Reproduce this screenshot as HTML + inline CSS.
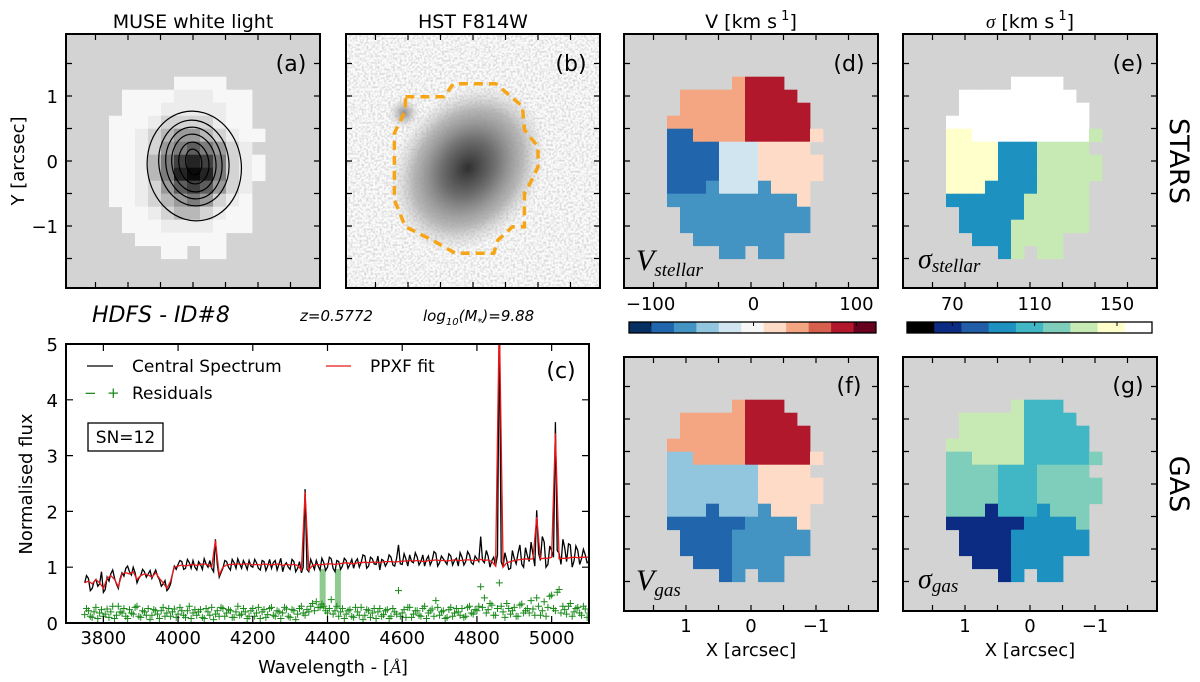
<!DOCTYPE html>
<html><head><meta charset="utf-8">
<style>
html,body{margin:0;padding:0;background:#fff;}
svg{display:block;font-family:"DejaVu Sans","Liberation Sans",sans-serif;}
</style></head>
<body>
<svg id="fig" width="1200" height="682" viewBox="0 0 1200 682" xmlns="http://www.w3.org/2000/svg">
<defs>
  <clipPath id="clipC"><rect x="66" y="344" width="523" height="279"/></clipPath>
  <clipPath id="clipB"><rect x="346" y="34" width="254" height="254"/></clipPath>
  <filter id="noise" x="0" y="0" width="100%" height="100%">
    <feTurbulence type="fractalNoise" baseFrequency="0.45" numOctaves="1" seed="7"/>
    <feColorMatrix type="matrix" values="0 0 0 0 0.55  0 0 0 0 0.55  0 0 0 0 0.55  0 0 0 -3.2 1.9"/>
  </filter>
  <radialGradient id="gal" cx="0.5" cy="0.5" r="0.5">
    <stop offset="0" stop-color="#303030"/>
    <stop offset="0.35" stop-color="#707070"/>
    <stop offset="0.7" stop-color="#a8a8a8" stop-opacity="0.8"/>
    <stop offset="1" stop-color="#d0d0d0" stop-opacity="0"/>
  </radialGradient>
  <radialGradient id="blob" cx="0.5" cy="0.5" r="0.5">
    <stop offset="0" stop-color="#8a8a8a"/>
    <stop offset="1" stop-color="#c8c8c8" stop-opacity="0"/>
  </radialGradient>
</defs>

<text x="193" y="28" font-size="19" text-anchor="middle">MUSE white light</text>
<text x="473" y="28" font-size="19" text-anchor="middle">HST F814W</text>
<text x="751" y="28" font-size="19" text-anchor="middle">V [km s<tspan font-size="13" dy="-8"> 1</tspan><tspan dy="8">]</tspan></text>
<text x="1030" y="28" font-size="19" text-anchor="middle"><tspan font-family="Liberation Serif" font-style="italic">σ</tspan> [km s<tspan font-size="13" dy="-8"> 1</tspan><tspan dy="8">]</tspan></text>

<g id="panelA"><rect x="66" y="34" width="254" height="254" fill="#d3d3d3"/></g>
<g id="panelB">
  <rect x="346" y="34" width="254" height="254" fill="#fbfbfb"/>
  <g clip-path="url(#clipB)">
    <rect x="346" y="34" width="254" height="254" filter="url(#noise)" opacity="0.6"/>
    <ellipse cx="468" cy="168" rx="72" ry="90" fill="url(#gal)" transform="rotate(35 468 168)"/>
    <ellipse cx="404" cy="113" rx="16" ry="16" fill="url(#blob)"/>
  </g>
  <polygon id="aperture" fill="none" stroke="#f5a516" stroke-width="3.5" stroke-dasharray="9,6"/>
</g>
<g id="panelD"><rect x="624" y="34" width="254" height="254" fill="#d3d3d3"/></g>
<g id="panelE"><rect x="903" y="34" width="254" height="254" fill="#d3d3d3"/></g>
<g id="panelF"><rect x="624" y="357" width="254" height="254" fill="#d3d3d3"/></g>
<g id="panelG"><rect x="903" y="357" width="254" height="254" fill="#d3d3d3"/></g>

<g id="contours" fill="none" stroke="#000" stroke-width="1.2" transform="rotate(-8 194 164)">
  <ellipse cx="194" cy="166" rx="47" ry="55"/>
  <ellipse cx="194" cy="163" rx="35" ry="43"/>
  <ellipse cx="194" cy="163" rx="28" ry="36"/>
  <ellipse cx="194" cy="163" rx="22" ry="29"/>
  <ellipse cx="194" cy="163" rx="15" ry="21"/>
  <ellipse cx="194" cy="162" rx="8" ry="13"/>
</g>

<g id="letters" font-size="22">
<text x="291" y="71" text-anchor="middle">(a)</text>
<text x="571" y="71" text-anchor="middle">(b)</text>
<text x="849" y="71" text-anchor="middle">(d)</text>
<text x="1128" y="71" text-anchor="middle">(e)</text>
<text x="849" y="393" text-anchor="middle">(f)</text>
<text x="1128" y="393" text-anchor="middle">(g)</text>
<text x="561" y="378" text-anchor="middle">(c)</text>
</g>
<g id="maplabels" font-family="Liberation Serif" font-style="italic">
<text x="636" y="270" font-size="30">V<tspan font-size="19" dy="6">stellar</tspan></text>
<text x="918" y="268" font-size="28">σ<tspan font-size="19" dy="4">stellar</tspan></text>
<text x="636" y="590" font-size="30">V<tspan font-size="19" dy="6">gas</tspan></text>
<text x="918" y="588" font-size="28">σ<tspan font-size="19" dy="4">gas</tspan></text>
</g>

<text transform="translate(24 161) rotate(-90)" font-size="18" text-anchor="middle">Y [arcsec]</text>
<text transform="translate(1170 161) rotate(90)" font-size="27" text-anchor="middle">STARS</text>
<text transform="translate(1170 484) rotate(90)" font-size="27" text-anchor="middle">GAS</text>

<text x="92" y="322" font-size="22" font-style="italic">HDFS - ID#8</text>
<text x="300" y="321" font-size="15" font-style="italic">z=0.5772</text>
<text x="423" y="321" font-size="15" font-style="italic">log<tspan font-size="10" dy="4">10</tspan><tspan dy="-4">(M</tspan><tspan font-size="10" dy="4">*</tspan><tspan dy="-4">)=9.88</tspan></text>

<g id="panelC">
  <rect x="66" y="344" width="523" height="279" fill="#fff"/>
</g>
<text transform="translate(32 484) rotate(-90)" font-size="18" text-anchor="middle">Normalised flux</text>
<text x="333" y="673" font-size="18" text-anchor="middle">Wavelength - [<tspan font-family="Liberation Serif" font-style="italic">Å</tspan>]</text>
<g id="legend" font-size="17">
  <line x1="87" y1="366" x2="113" y2="366" stroke="#000" stroke-width="1.3"/>
  <text x="132" y="372">Central Spectrum</text>
  <line x1="326" y1="366" x2="351" y2="366" stroke="#e8181a" stroke-width="1.3"/>
  <text x="370" y="372">PPXF fit</text>
  <text x="84" y="398" fill="#1a8a1a" font-size="15">−</text>
  <text x="107" y="398" fill="#1a8a1a" font-size="15">+</text>
  <text x="132" y="399">Residuals</text>
</g>
<rect x="88" y="423" width="75" height="28" fill="#fff" stroke="#000" stroke-width="1.3"/>
<text x="125.5" y="443" font-size="17" text-anchor="middle">SN=12</text>
</svg>

<script>
// ---------- spectrum data ----------
const wlStart = 3750, wlStep = 10;
const flux = [0.72,0.80,0.62,0.78,0.70,0.55,0.82,0.88,0.80,0.62,
0.90,0.98,0.92,1.00,0.72,0.85,0.92,0.88,0.80,0.95,
0.78,0.70,0.58,0.70,1.02,1.05,1.10,0.98,1.08,1.12,
0.95,1.05,1.15,1.00,0.98,1.50,0.82,0.98,1.10,0.95,
1.08,1.15,0.98,1.05,1.12,1.00,1.08,0.95,1.10,1.02,
0.98,1.12,1.05,0.92,1.08,0.96,1.10,0.98,0.90,2.40,
0.92,1.05,1.12,0.95,1.08,1.00,1.15,0.92,1.10,1.02,
1.12,1.05,0.98,1.15,1.08,1.20,1.02,1.15,1.05,0.95,
1.12,1.08,1.18,1.02,1.40,1.05,1.15,1.22,1.08,1.18,
1.10,1.02,1.20,1.12,1.25,1.08,1.15,1.05,1.20,1.12,
1.02,1.18,1.10,1.22,1.05,1.15,1.55,1.08,1.20,1.12,
1.02,5.50,1.00,1.12,0.98,1.15,1.25,1.05,1.35,1.10,
1.22,2.02,1.12,1.45,1.05,1.30,3.60,1.25,1.50,1.10,
1.40,1.12,1.30,1.15,1.22,1.10];
// intermediate samples (offset +5 A) giving the noisy look
const fluxMid = [0.85,0.58,0.74,0.66,0.92,0.60,0.75,0.95,0.70,0.80,
0.84,1.02,0.86,0.90,0.80,0.96,0.82,0.94,0.88,0.84,
0.66,0.76,0.62,0.88,0.96,1.12,0.96,1.14,0.98,1.00,
1.10,0.96,1.06,1.12,0.92,1.05,0.90,1.12,1.00,1.14,
0.98,1.06,1.12,0.96,1.02,1.14,0.98,1.12,0.94,1.14,
1.08,0.95,1.16,1.04,1.00,1.14,0.92,1.10,1.00,0.96,
1.14,0.96,1.02,1.16,0.94,1.18,0.98,1.12,0.96,1.16,
0.98,1.14,1.10,1.00,1.22,0.98,1.18,1.06,1.20,1.14,
1.02,1.22,1.04,1.16,1.06,1.24,1.02,1.10,1.26,1.04,
1.22,1.14,1.04,1.28,1.02,1.20,1.10,1.24,1.04,1.16,
1.26,1.04,1.28,1.08,1.20,1.10,1.12,1.30,1.00,1.18,
1.22,1.10,1.26,0.96,1.30,1.06,1.40,1.00,1.20,1.45,
1.02,1.25,1.55,1.00,1.38,1.18,1.30,1.05,1.35,1.42,
1.00,1.38,1.05,1.32,1.08,1.25];
const fit = [0.72,0.75,0.70,0.78,0.72,0.62,0.80,0.85,0.78,0.65,
0.88,0.90,0.88,0.92,0.78,0.85,0.88,0.86,0.82,0.90,
0.80,0.72,0.62,0.75,1.00,1.02,1.04,1.02,1.04,1.05,
1.03,1.05,1.06,1.04,1.00,1.48,0.86,1.00,1.04,1.05,
1.05,1.06,1.05,1.06,1.06,1.04,1.05,1.04,1.06,1.05,
1.04,1.05,1.06,1.03,1.05,1.04,1.05,1.03,0.95,2.35,
0.95,1.03,1.05,1.04,1.05,1.06,1.06,1.05,1.06,1.07,
1.08,1.07,1.06,1.08,1.08,1.09,1.08,1.09,1.09,1.08,
1.10,1.10,1.10,1.09,1.10,1.11,1.11,1.12,1.11,1.12,
1.11,1.10,1.12,1.12,1.13,1.12,1.12,1.11,1.12,1.13,
1.12,1.12,1.13,1.13,1.12,1.12,1.14,1.12,1.13,1.10,
1.02,5.50,1.00,1.08,1.10,1.12,1.13,1.14,1.15,1.14,
1.15,1.90,1.15,1.16,1.16,1.18,3.40,1.15,1.16,1.16,
1.17,1.18,1.17,1.18,1.18,1.18];
const resid = [0.15,0.22,0.10,0.28,0.18,0.12,0.25,0.20,0.08,0.30,
0.18,0.12,0.24,0.16,0.30,0.10,0.20,0.26,0.14,0.22,
0.08,0.28,0.18,0.12,0.25,0.16,0.22,0.10,0.30,0.18,
0.14,0.24,0.08,0.20,0.28,0.16,0.12,0.26,0.18,0.22,
0.10,0.30,0.16,0.20,0.12,0.26,0.18,0.08,0.24,0.15,
0.28,0.12,0.20,0.18,0.25,0.10,0.22,0.16,0.30,0.14,
0.20,0.35,0.38,0.28,0.30,0.18,0.42,0.22,0.12,0.26,
0.16,0.24,0.10,0.20,0.28,0.14,0.22,0.18,0.08,0.26,
0.15,0.24,0.12,0.20,0.58,0.18,0.10,0.28,0.16,0.22,
0.12,0.30,0.18,0.25,0.40,0.14,0.22,0.10,0.28,0.18,
0.20,0.26,0.12,0.30,0.16,0.22,0.65,0.45,0.24,0.32,
0.14,0.72,0.20,0.35,0.16,0.28,0.12,0.34,0.22,0.18,
0.25,0.45,0.14,0.38,0.28,0.50,0.22,0.60,0.30,0.16,
0.35,0.20,0.28,0.14,0.25,0.18];
const residMid = [0.26,0.12,0.20,0.08,0.24,0.16,0.10,0.30,0.14,0.20,
0.26,0.08,0.18,0.28,0.12,0.22,0.14,0.06,0.24,0.16,
0.22,0.12,0.26,0.20,0.10,0.28,0.14,0.22,0.08,0.24,
0.20,0.10,0.26,0.14,0.06,0.22,0.28,0.12,0.24,0.10,
0.20,0.14,0.26,0.08,0.22,0.12,0.28,0.20,0.10,0.26,
0.14,0.22,0.08,0.28,0.12,0.24,0.06,0.26,0.18,0.24,
0.30,0.22,0.28,0.34,0.22,0.26,0.16,0.30,0.20,0.08,
0.22,0.12,0.28,0.14,0.06,0.24,0.10,0.26,0.20,0.12,
0.22,0.08,0.26,0.16,0.12,0.24,0.28,0.10,0.22,0.14,
0.26,0.08,0.22,0.12,0.28,0.20,0.08,0.24,0.12,0.26,
0.14,0.10,0.28,0.18,0.24,0.30,0.28,0.18,0.35,0.14,
0.26,0.30,0.10,0.26,0.22,0.12,0.32,0.18,0.26,0.40,
0.14,0.30,0.22,0.12,0.48,0.26,0.55,0.18,0.24,0.30,
0.12,0.26,0.18,0.30,0.10,0.22];
const maskedWl = [4387, 4428];
const maskedLow = [0.25, 0.25];
const maskedHigh = [0.97, 0.97];
const xTicksC = [3800,4000,4200,4400,4600,4800,5000];
const yTicksC = [0,1,2,3,4,5];

// ---------- map data (rows top->bottom, 12 columns of 0.2" spaxels) ----------
const museLevels = [
".....0000...",
".0000111000.",
".0001111100.",
"00012222100.",
"001234432100",
"00124565421.",
"001357875210",
"001358985210",
"00124676421.",
"00123454210.",
".0012332100.",
".0001111000.",
"..0000000...",
"....00.00..."];
const vStellar = [
".....ORRR...",
".OOOOORRRR..",
".OOOOORRRRR.",
"OOOOOORRRRR.",
"DDOOOORRRRRP",
"DDDDLLLPPPP.",
"DDDDLLLPPPPP",
"DDDDLLLPPPPP",
"DDDMLLLMPPP.",
"MMMMMMMMMMP.",
".MMMMMMMMMM.",
".MMMMMMMMMM.",
"..MMMMMMM...",
"....MM.MM..."];
const sStellar = [
".....WWWW...",
".WWWWWWWWW..",
".WWWWWWWWWW.",
"WWWWWWWWWWW.",
"YYWWWWWWWWWG",
"YYYYBBBGGGG.",
"YYYYBBBGGGGG",
"YYYYBBBGGGGG",
"YYYBBBBGGGG.",
"BBBBBBGGGGG.",
".BBBBBGGGGG.",
".BBBBGGGGGG.",
"..BBBGGGG...",
"....BG.GG..."];
const vGas = [
".....ORRR...",
".OOOOORRRR..",
".OOOOORRRRR.",
"OOOOOORRRRR.",
"KKOOOORRRRRP",
"KKKKKKKPPPP.",
"KKKKKKKPPPPP",
"KKKKKKKPPPPP",
"KKKDKKKMPPP.",
"DDDDDDMMMMP.",
".DDDDMMMMMM.",
".DDDDMMMMMM.",
"..DDDMMMM...",
"....DM.MM..."];
const sGas = [
".....GTTT...",
".GGGGGTTTT..",
".GGGGGTTTTT.",
"GGGGGGTTTTT.",
"AAGGGGTTTTTA",
"AAAATTTAAAA.",
"AAAATTTAAAAA",
"AAAATTTAAAAA",
"AAANTTTBAAA.",
"NNNNNNBBBBA.",
".NNNNBBBBBB.",
".NNNNBBBBBB.",
"..NNNBBBB...",
"....NB.BB..."];
const velPalette = {O:"#f4a582",R:"#b2182b",P:"#fddbc7",D:"#2166ac",L:"#d1e5f0",K:"#92c5de",M:"#4393c3"};
const sigPalette = {W:"#ffffff",Y:"#ffffcc",G:"#c7e9b4",B:"#1d91c0",T:"#41b6c4",A:"#7fcdbb",N:"#0c2c84"};
const museGrey = ["#f7f7f7","#ececec","#d4d4d4","#b8b8b8","#9a9a9a","#7c7c7c","#5e5e5e","#404040","#242424","#0a0a0a"];
const velBarColors = ["#053061","#2166ac","#4393c3","#92c5de","#d1e5f0","#f7f7f7","#fddbc7","#f4a582","#d6604d","#b2182b","#67001f"];
const velBarTicks = [-100,0,100];
const sigBarColors = ["#000000","#0c2c84","#225ea8","#1d91c0","#41b6c4","#7fcdbb","#c7e9b4","#ffffcc","#ffffff"];
const sigBarTicks = [70,110,150];
const apertureArcsec = [[1.04,0.99],[0.45,0.99],[0.30,1.19],[-0.35,1.19],[-0.76,0.84],[-0.79,0.48],[-1.0,0.22],[-1.0,-0.09],[-0.88,-0.34],[-0.79,-0.50],[-0.79,-1.01],[-0.61,-1.01],[-0.38,-1.22],[-0.32,-1.42],[0.27,-1.42],[0.62,-1.22],[1.04,-1.01],[1.21,-0.60],[1.21,0.43],[1.04,0.78]];

const NS = "http://www.w3.org/2000/svg";
const fig = document.getElementById('fig');
function mk(tag, attrs, parent){ const e=document.createElementNS(NS,tag); for(const k in attrs) e.setAttribute(k,attrs[k]); (parent||fig).appendChild(e); return e; }

// ---------- spectrum axes ----------
const cx0=66, cx1=589, cy0=344, cy1=623, wMin=3700, wMax=5100, fMax=5;
function xw(w){ return cx0+(w-wMin)*(cx1-cx0)/(wMax-wMin); }
function yf(f){ return cy1-f*(cy1-cy0)/fMax; }
const pc = document.getElementById('panelC');
const clipG = mk('g',{'clip-path':'url(#clipC)'},pc);
maskedWl.forEach((w,i)=>{
  const r = mk('rect',{x:xw(w)-3,y:yf(maskedHigh[i]),width:6,height:yf(maskedLow[i])-yf(maskedHigh[i]),fill:'#5fb35f','fill-opacity':0.7},clipG);
  
  
});
function plus(x,y){
  const p = mk('path',{d:'M'+(x-3.5)+','+y+'H'+(x+3.5)+'M'+x+','+(y-3.5)+'V'+(y+3.5),stroke:'#1a8a1a','stroke-width':1},clipG);
  
  
}
resid.forEach((v,i)=>plus(xw(wlStart+i*wlStep), yf(v)));
residMid.forEach((v,i)=>plus(xw(wlStart+5+i*wlStep), yf(v)));
let dBlack='', dRed='';
flux.forEach((v,i)=>{
  const w=wlStart+i*wlStep;
  dBlack += (i?'L':'M')+xw(w).toFixed(1)+','+yf(v).toFixed(1);
  if(i<fluxMid.length) dBlack += 'L'+xw(w+5).toFixed(1)+','+yf(fluxMid[i]).toFixed(1);
});
fit.forEach((v,i)=>{ const w=wlStart+i*wlStep; dRed += (i?'L':'M')+xw(w).toFixed(1)+','+yf(v).toFixed(1); });
const lb = mk('path',{d:dBlack,fill:'none',stroke:'#000','stroke-width':1.3},clipG);


const lr = mk('path',{d:dRed,fill:'none',stroke:'#e8181a','stroke-width':1.3},clipG);


mk('rect',{x:cx0,y:cy0,width:cx1-cx0,height:cy1-cy0,fill:'none',stroke:'#000','stroke-width':2},pc);
xTicksC.forEach(w=>{
  const x=xw(w);
  mk('path',{d:'M'+x+','+cy1+'v-7M'+x+','+cy0+'v7',stroke:'#000','stroke-width':1.2},pc);
  const t = mk('text',{x:x,y:644,'font-size':18,'text-anchor':'middle'},pc);
  t.textContent = w;
  
  
});
yTicksC.forEach(f=>{
  const y=yf(f);
  mk('path',{d:'M'+cx0+','+y+'h7M'+cx1+','+y+'h-7',stroke:'#000','stroke-width':1.2},pc);
  const t = mk('text',{x:58,y:y+7,'font-size':18,'text-anchor':'end'},pc);
  t.textContent = f;
  
  
});

// ---------- maps ----------
const CELL=13;
function drawMap(groupId, gx0, gy0, rows, colorOf){
  const g=document.getElementById(groupId);
  rows.forEach((row,r)=>{
    for(let c=0;c<row.length;c++){
      const ch=row[c]; if(ch==='.') continue;
      const rc = mk('rect',{x:gx0+c*CELL,y:gy0+r*CELL,width:CELL+0.4,height:CELL+0.4,fill:colorOf(ch)},g);
      
      
    }
  });
}
drawMap('panelA',109,76.7,museLevels,ch=>museGrey[+ch]);
drawMap('panelD',667,76.7,vStellar,ch=>velPalette[ch]);
drawMap('panelE',946,76.7,sStellar,ch=>sigPalette[ch]);
drawMap('panelF',667,399.7,vGas,ch=>velPalette[ch]);
drawMap('panelG',946,399.7,sGas,ch=>sigPalette[ch]);
fig.appendChild(document.getElementById('contours'));

// aperture in (b): arcsec -> px (x inverted)
const bcx=473, bcy=161, PPA=65;
document.getElementById('aperture').setAttribute('points', apertureArcsec.map(p=>(bcx-p[0]*PPA).toFixed(1)+','+(bcy-p[1]*PPA).toFixed(1)).join(' '));

// frames + ticks for image panels
const frames=[['panelA',66,34],['panelB',346,34],['panelD',624,34],['panelE',903,34],['panelF',624,357],['panelG',903,357]];
const tickArcsec=[-1.5,-1,-0.5,0,0.5,1,1.5];
frames.forEach(([id,x0,y0])=>{
  const g=document.getElementById(id);
  const cx=x0+127, cy=y0+127;
  let d='';
  tickArcsec.forEach(a=>{
    const x=cx-a*PPA, y=cy-a*PPA;
    d+='M'+x+','+y0+'v6M'+x+','+(y0+254)+'v-6M'+x0+','+y+'h6M'+(x0+254)+','+y+'h-6';
  });
  mk('path',{d:d,stroke:'#000','stroke-width':1.2,fill:'none'},g);
  mk('rect',{x:x0,y:y0,width:254,height:254,fill:'none',stroke:'#000','stroke-width':2},g);
});
fig.appendChild(document.getElementById('letters'));
fig.appendChild(document.getElementById('maplabels'));
[1,0,-1].forEach(a=>{
  const t=mk('text',{x:58,y:161-a*PPA+7,'font-size':18,'text-anchor':'end'});
  t.textContent = a<0?'−1':a;
  
  
});
[751,1030].forEach(c=>{
  [1,0,-1].forEach(a=>{
    const t=mk('text',{x:c-a*PPA,y:632,'font-size':18,'text-anchor':'middle'});
    t.textContent = a<0?'−1':a;
    
    
  });
  const t=mk('text',{x:c,y:656,'font-size':18,'text-anchor':'middle'});
  t.textContent='X [arcsec]';
  
  
});

// ---------- colorbars ----------
function colorbar(x0,x1,colors,ticks,vmin,vmax,name){
  const g=mk('g',{});
  
  
  const w=(x1-x0)/colors.length;
  colors.forEach((c,i)=>{
    const r=mk('rect',{x:x0+i*w,y:322,width:w+0.3,height:11,fill:c},g);
    
    
  });
  mk('rect',{x:x0,y:322,width:x1-x0,height:11,fill:'none',stroke:'#000','stroke-width':1.3},g);
  ticks.forEach(v=>{
    const x=x0+(v-vmin)/(vmax-vmin)*(x1-x0);
    mk('path',{d:'M'+x+',322v4',stroke:'#000','stroke-width':1},g);
    const t=mk('text',{x:x,y:310,'font-size':18,'text-anchor':'middle'},g);
    t.textContent = v<0?'−'+Math.abs(v):v;
    
    
  });
}
colorbar(629,876,velBarColors,velBarTicks,-121,119,'colorbar-velocity');
colorbar(907,1152,sigBarColors,sigBarTicks,48,167,'colorbar-sigma');
</script>
</body></html>
